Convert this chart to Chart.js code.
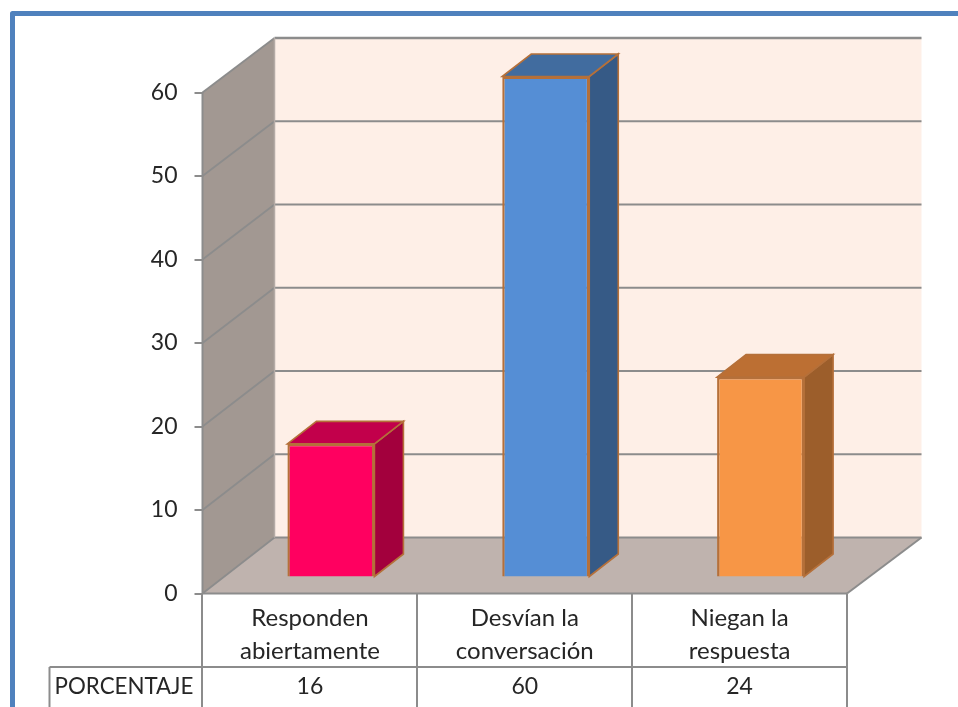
<!DOCTYPE html>
<html><head><meta charset="utf-8">
<style>html,body{margin:0;padding:0;background:#fff;overflow:hidden}canvas{display:block}</style>
<script src="https://cdn.jsdelivr.net/npm/chart.js@4"></script></head>
<body><canvas id="c" width="958" height="707" style="width:958px;height:707px"></canvas>
<script>
const categories = [['Responden','abiertamente'],['Desvían la','conversación'],['Niegan la','respuesta']];
const values = [16, 60, 24];
const seriesName = 'PORCENTAJE';
const yTicks = [0,10,20,30,40,50,60];
const frontColors = ['#FF0060','#558ED5','#F79646'];
const sideColors = ['#A3003D','#365A86','#9C5E2B'];
const topColors = ['#C2004B','#416C9F','#BC6F33'];
const FONT = 'Lato';
const GRID = '#8C8C8C';
const TXT = '#262626';
const wall = {dxL:72, dxR:74.5, dyTop:-54.5, dyBottom:-56};
const barOff = {dx:21, dy:-16};
const depth = {dx:29, dy:-22.5};

function poly(ctx, pts, fill, stroke, lw){
  ctx.beginPath();
  pts.forEach((p,i)=> i?ctx.lineTo(p[0],p[1]):ctx.moveTo(p[0],p[1]));
  ctx.closePath();
  if(fill){ctx.fillStyle=fill;ctx.fill();}
  if(stroke){ctx.strokeStyle=stroke;ctx.lineWidth=lw||1;ctx.stroke();}
}
function line(ctx,x1,y1,x2,y2,c,lw){
  ctx.beginPath();ctx.moveTo(x1,y1);ctx.lineTo(x2,y2);ctx.strokeStyle=c;ctx.lineWidth=lw||2;ctx.stroke();
}
const threeD = {
  id:'threeD',
  beforeDraw(chart){
    const ctx=chart.ctx; ctx.save();
    ctx.fillStyle='#fff';ctx.fillRect(0,0,958,707);
    ctx.strokeStyle='#4F81BD';ctx.lineWidth=5;ctx.lineJoin='round';
    ctx.beginPath();ctx.moveTo(12.5,707);ctx.lineTo(12.5,13.5);ctx.lineTo(958,13.5);ctx.stroke();
    ctx.restore();
  },
  beforeDatasetsDraw(chart){
    const ctx=chart.ctx, a=chart.chartArea, ys=chart.scales.y;
    const l=a.left,r=a.right,t=a.top,b=a.bottom;
    const back=y=>y+wall.dyTop+(wall.dyBottom-wall.dyTop)*(y-t)/(b-t);
    const bl=l+wall.dxL, br=r+wall.dxR;
    ctx.save();
    poly(ctx,[[bl,back(t)],[br,back(t)],[br,back(b)],[bl,back(b)]],'#FEEFE7');
    poly(ctx,[[l,t],[bl,back(t)],[bl,back(b)],[l,b]],'#A29892');
    poly(ctx,[[l,b],[r,b],[br,back(b)],[bl,back(b)]],'#BFB3AE');
    yTicks.forEach(v=>{
      const y=ys.getPixelForValue(v);
      line(ctx,l,y,bl,back(y),GRID,1.8);
      line(ctx,bl,back(y),br,back(y),GRID,v===60?2.4:2);
    });
    line(ctx,bl,back(t),bl,back(b),'#B5ABA6',1.5);
    line(ctx,l,t,l,b,GRID,2);
    line(ctx,r,b,br,back(b),GRID,2);
    ctx.restore();
  },
  beforeDatasetDraw(chart){
    const ctx=chart.ctx, bars=chart.getDatasetMeta(0).data;
    ctx.save();
    ctx.lineJoin='miter';
    bars.forEach((bar,i)=>{
      const p=bar.getProps(['x','y','base','width'],true);
      const L=p.x-p.width/2+barOff.dx, R=p.x+p.width/2+barOff.dx;
      const T=p.y+barOff.dy, B=p.base+barOff.dy;
      const c='#B5703A';
      poly(ctx,[[R,T],[R+depth.dx,T+depth.dy],[R+depth.dx,B+depth.dy],[R,B]],sideColors[i],c,1.6);
      poly(ctx,[[L,T],[L+depth.dx,T+depth.dy],[R+depth.dx,T+depth.dy],[R,T]],topColors[i],c,1.6);
    });
    ctx.restore();
    ctx.save();
    ctx.translate(barOff.dx,barOff.dy);
  },
  afterDatasetDraw(chart){ chart.ctx.restore(); },
  afterDraw(chart){
    const ctx=chart.ctx, a=chart.chartArea, xs=chart.scales.x;
    const rowTop=667;
    ctx.save();
    line(ctx,49.5,rowTop,a.right,rowTop,GRID,2);
    line(ctx,49.5,rowTop,49.5,707,GRID,2);
    line(ctx,a.left,a.bottom,a.right,a.bottom,GRID,2);
    ctx.fillStyle=TXT;ctx.font='23px '+FONT;ctx.textBaseline='middle';
    ctx.textAlign='center';
    values.forEach((v,i)=>ctx.fillText(String(v),xs.getPixelForValue(i),687));
    ctx.font='22.3px '+FONT;
    ctx.fillText(seriesName,124,687);
    ctx.restore();
  }
};
new Chart(document.getElementById('c'),{
  type:'bar',
  data:{labels:categories,datasets:[{label:seriesName,data:values,backgroundColor:frontColors,
    borderColor:'#B5703A',borderWidth:2.4,barPercentage:0.405,categoryPercentage:1}]},
  plugins:[threeD],
  options:{
    responsive:false,animation:false,
    layout:{padding:{top:92.5,right:111,left:0,bottom:0}},
    plugins:{legend:{display:false},tooltip:{enabled:false},title:{display:false}},
    scales:{
      x:{type:'category',offset:true,
        border:{display:false},
        grid:{display:true,offset:true,drawOnChartArea:false,drawTicks:true,tickLength:114,color:GRID,lineWidth:2},
        ticks:{color:TXT,font:{family:FONT,size:24,lineHeight:1.35},padding:-105,maxRotation:0,autoSkip:false},
        afterFit(s){s.height=113.5;}
      },
      y:{type:'linear',min:0,max:60,
        border:{display:false},
        grid:{display:true,drawOnChartArea:false,drawTicks:true,tickLength:8,color:GRID,lineWidth:2},
        ticks:{stepSize:10,color:TXT,font:{family:FONT,size:23},padding:17},
        afterFit(s){s.width=202.5;}
      }
    }
  }
});
</script></body></html>
